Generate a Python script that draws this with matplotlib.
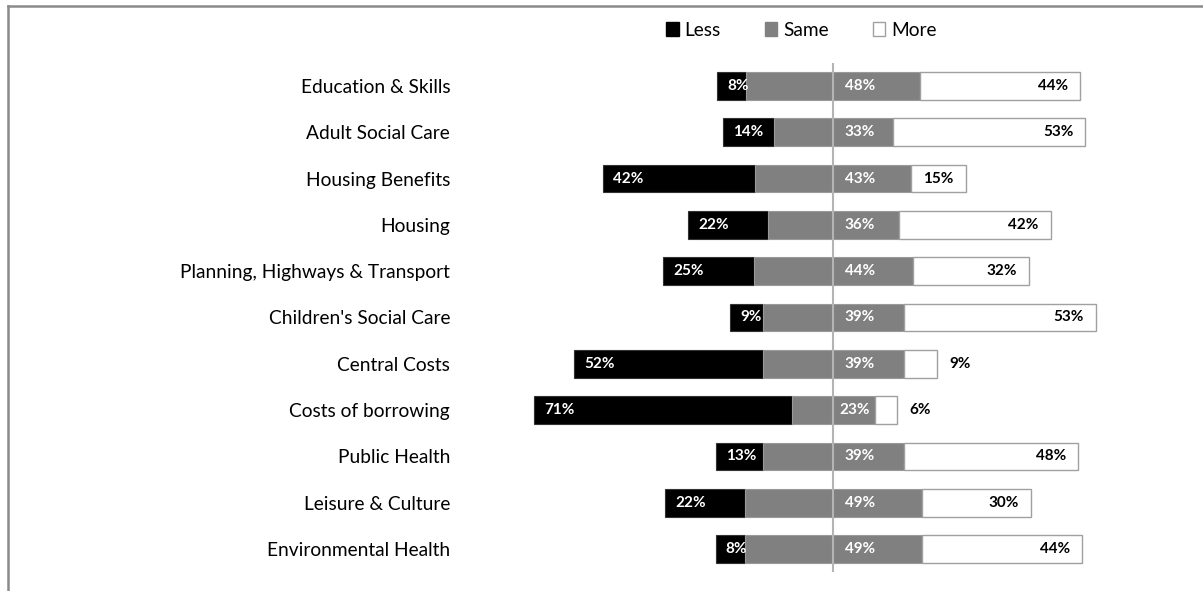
import matplotlib.pyplot as plt
from matplotlib.lines import Line2D
from matplotlib.patches import Patch
import numpy as np

plt.rcParams['font.family'] = ['Lato', 'DejaVu Sans']

categories = ["Education & Skills", "Adult Social Care", "Housing Benefits", "Housing",
              "Planning, Highways & Transport", "Children's Social Care", "Central Costs",
              "Costs of borrowing", "Public Health", "Leisure & Culture", "Environmental Health"]
less = [8, 14, 42, 22, 25, 9, 52, 71, 13, 22, 8]
same = [48, 33, 43, 36, 44, 39, 39, 23, 39, 49, 49]
more = [44, 53, 15, 42, 32, 53, 9, 6, 48, 30, 44]

fig = plt.figure(figsize=(12.03, 5.91), dpi=100)
ax = fig.add_axes([0.3915, 0.0318, 0.6025, 0.862])

y = np.arange(len(categories))
less_a = np.array(less)
same_a = np.array(same)
more_a = np.array(more)
h = 0.6

# "same" is centred on zero, "less" sits to its left, "more" to its right
ax.barh(y, less_a, left=-same_a / 2 - less_a, height=h, color='black', edgecolor='#333333', lw=0.8, zorder=2)
ax.barh(y, same_a, left=-same_a / 2, height=h, color='#808080', edgecolor='#9a9a9a', lw=0.8, zorder=2)
ax.barh(y, more_a, left=same_a / 2, height=h, color='white', edgecolor='#a0a0a0', lw=1.0, zorder=2)
ax.axvline(0, color='#b4b4b4', lw=1.5, zorder=3)

fs = 11
for i in range(len(categories)):
    l, s, m = less[i], same[i], more[i]
    ax.text(-s / 2 - l + 2.8, i, f"{l}%", color='white', fontweight='bold', fontsize=fs,
            ha='left', va='center', zorder=4)
    ax.text(min(7.3, s / 2 - 5.5), i, f"{s}%", color='white', fontweight='bold', fontsize=fs,
            ha='center', va='center', zorder=4)
    if m >= 10:
        ax.text(s / 2 + m - 3.3, i, f"{m}%", color='black', fontweight='bold', fontsize=fs,
                ha='right', va='center', zorder=4)
    else:
        ax.text(s / 2 + m + 3.5, i, f"{m}%", color='black', fontweight='bold', fontsize=fs,
                ha='left', va='center', zorder=4)

ax.set_xlim(-100, 100)
ax.set_ylim(len(categories) - 0.5, -0.5)
ax.set_yticks(y)
ax.set_yticklabels(categories, fontsize=13.8)
ax.tick_params(axis='y', length=0, pad=15)
ax.set_xticks([])
for sp in ax.spines.values():
    sp.set_visible(False)

handles = [Patch(facecolor='black', edgecolor='black'),
           Patch(facecolor='#808080', edgecolor='#808080'),
           Patch(facecolor='white', edgecolor='#a0a0a0')]
fig.legend(handles, ['Less', 'Same', 'More'], loc='center', bbox_to_anchor=(0.666, 0.949),
           ncol=3, frameon=False, fontsize=13.8, handlelength=0.65, handleheight=0.75,
           handletextpad=0.3, columnspacing=2.3)

# outer frame (only top and left edges show)
fig.add_artist(Line2D([8 / 1203, 8 / 1203], [0, 1 - 6 / 591], transform=fig.transFigure,
                      color='#8a8a8a', lw=1.8))
fig.add_artist(Line2D([8 / 1203, 1], [1 - 6 / 591, 1 - 6 / 591], transform=fig.transFigure,
                      color='#8a8a8a', lw=1.8))

fig.savefig('out.png', dpi=100)
